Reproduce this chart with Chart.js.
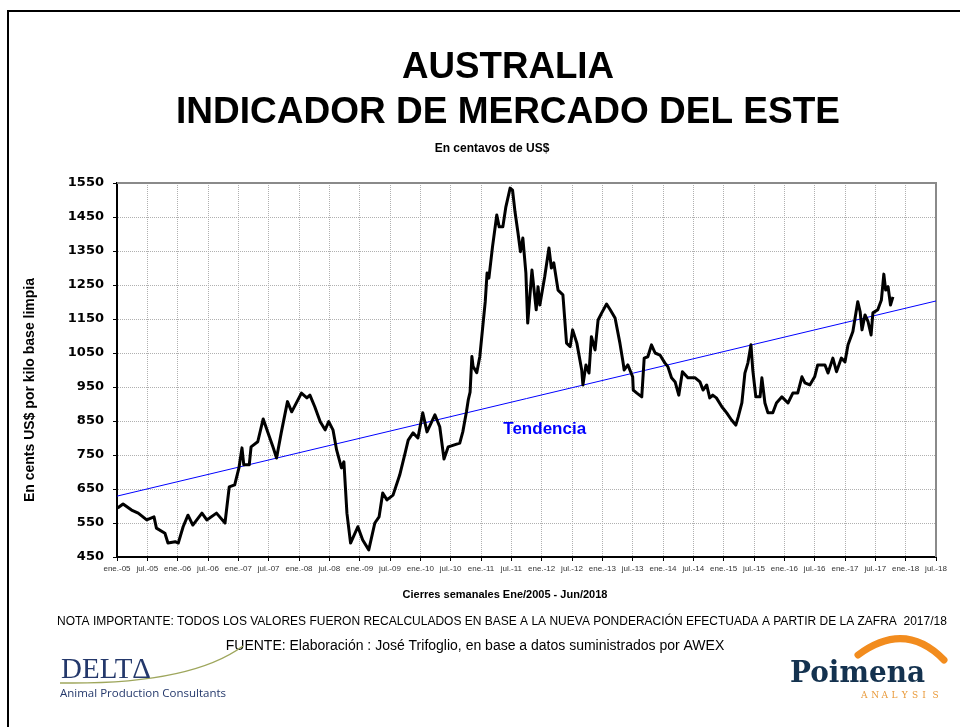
<!DOCTYPE html>
<html>
<head>
<meta charset="utf-8">
<script src="https://cdn.jsdelivr.net/npm/chart.js@4"></script>
<style>
  body { margin: 0; background: #fff; }
  canvas { display: block; }
</style>
</head>
<body>
<canvas id="emi" width="960" height="727"></canvas>
<script>
// fechas en años decimales, valores en centavos de US$ por kilo base limpia
const fechas = [
  2005.01, 2005.10, 2005.24, 2005.35, 2005.49, 2005.61, 2005.65, 2005.79, 2005.84, 2005.96,
  2006.01, 2006.09, 2006.17, 2006.25, 2006.40, 2006.48, 2006.64, 2006.78, 2006.85, 2006.94,
  2007.01, 2007.06, 2007.09, 2007.18, 2007.21, 2007.32, 2007.41, 2007.49, 2007.57, 2007.63,
  2007.71, 2007.81, 2007.88, 2008.04, 2008.13, 2008.18, 2008.26, 2008.35, 2008.43, 2008.49,
  2008.56, 2008.62, 2008.70, 2008.74, 2008.79, 2008.85, 2008.97, 2009.05, 2009.15, 2009.25,
  2009.32, 2009.38, 2009.45, 2009.55, 2009.66, 2009.75, 2009.80, 2009.88, 2009.96, 2010.04,
  2010.11, 2010.24, 2010.32, 2010.39, 2010.46, 2010.65, 2010.70, 2010.76, 2010.79, 2010.82,
  2010.85, 2010.87, 2010.93, 2010.98, 2011.07, 2011.10, 2011.13, 2011.19, 2011.26, 2011.30,
  2011.36, 2011.41, 2011.48, 2011.52, 2011.56, 2011.61, 2011.65, 2011.69, 2011.74, 2011.77,
  2011.84, 2011.91, 2011.94, 2011.97, 2012.05, 2012.12, 2012.16, 2012.20, 2012.27, 2012.35,
  2012.41, 2012.47, 2012.51, 2012.58, 2012.66, 2012.68, 2012.73, 2012.78, 2012.82, 2012.88,
  2012.93, 2012.99, 2013.07, 2013.13, 2013.21, 2013.29, 2013.34, 2013.36, 2013.42, 2013.50,
  2013.51, 2013.57, 2013.65, 2013.69, 2013.75, 2013.81, 2013.87, 2013.95, 2014.03, 2014.08,
  2014.14, 2014.20, 2014.26, 2014.32, 2014.41, 2014.53, 2014.61, 2014.66, 2014.72, 2014.77,
  2014.82, 2014.88, 2014.97, 2015.05, 2015.13, 2015.20, 2015.24, 2015.30, 2015.35, 2015.40,
  2015.45, 2015.48, 2015.53, 2015.60, 2015.63, 2015.68, 2015.73, 2015.81, 2015.87, 2015.96,
  2016.06, 2016.14, 2016.22, 2016.29, 2016.34, 2016.42, 2016.50, 2016.55, 2016.67, 2016.72,
  2016.80, 2016.86, 2016.94, 2017.00, 2017.05, 2017.13, 2017.21, 2017.25, 2017.28, 2017.33,
  2017.38, 2017.43, 2017.46, 2017.54, 2017.60, 2017.64, 2017.67, 2017.71, 2017.75, 2017.79
];
const indicador = [
  594, 606, 588, 579, 559, 568, 535, 520, 491, 495,
  491, 539, 573, 544, 579, 559, 579, 550, 656, 662,
  712, 771, 721, 721, 774, 789, 856, 815, 774, 741,
  818, 907, 877, 932, 918, 926, 892, 848, 824, 848,
  824, 765, 712, 730, 579, 491, 539, 500, 471, 550,
  568, 638, 618, 632, 691, 756, 794, 815, 800, 874,
  818, 868, 833, 738, 774, 785, 818, 877, 912, 935,
  1040, 1010, 992, 1039, 1201, 1285, 1270, 1363, 1456, 1421,
  1421, 1480, 1535, 1529, 1466, 1403, 1348, 1388, 1285, 1138,
  1294, 1177, 1245, 1191, 1274, 1359, 1300, 1315, 1235, 1221,
  1079, 1069, 1118, 1079, 1000, 956, 1015, 991, 1098, 1059,
  1147, 1168, 1194, 1177, 1153, 1079, 1024, 1000, 1015, 980,
  941, 932, 921, 1035, 1039, 1074, 1050, 1044, 1021, 1010,
  977, 965, 926, 995, 977, 977, 965, 941, 956, 918,
  926, 918, 892, 874, 853, 838, 862, 903, 991, 1021,
  1074, 1000, 921, 921, 977, 903, 874, 874, 903, 921,
  903, 932, 932, 980, 962, 956, 980, 1015, 1015, 991,
  1035, 995, 1035, 1024, 1074, 1113, 1201, 1171, 1118, 1162,
  1142, 1103, 1168, 1177, 1206, 1282, 1235, 1245, 1191, 1215
];
const tendenciaX = [2005, 2018.5];
const tendenciaY = [629, 1203];
const etiquetasX = [
  'ene.-05', 'jul.-05', 'ene.-06', 'jul.-06', 'ene.-07', 'jul.-07', 'ene.-08', 'jul.-08',
  'ene.-09', 'jul.-09', 'ene.-10', 'jul.-10', 'ene.-11', 'jul.-11', 'ene.-12', 'jul.-12',
  'ene.-13', 'jul.-13', 'ene.-14', 'jul.-14', 'ene.-15', 'jul.-15', 'ene.-16', 'jul.-16',
  'ene.-17', 'jul.-17', 'ene.-18', 'jul.-18'
];

const decoracion = {
  id: 'decoracion',
  beforeDatasetsDraw(chart) {
    const { ctx, chartArea: a } = chart;
    // borde superior y derecho del area de trazado
    ctx.save();
    ctx.strokeStyle = '#8a8a8a';
    ctx.lineWidth = 2;
    ctx.beginPath();
    ctx.moveTo(a.left, a.top);
    ctx.lineTo(a.right, a.top);
    ctx.lineTo(a.right, a.bottom);
    ctx.stroke();
    ctx.restore();
  },
  afterDraw(chart) {
    const { ctx, scales } = chart;
    ctx.save();
    // marco
    ctx.strokeStyle = '#000';
    ctx.lineWidth = 2;
    ctx.beginPath();
    ctx.moveTo(8, 727);
    ctx.lineTo(8, 11);
    ctx.lineTo(960, 11);
    ctx.stroke();

    ctx.fillStyle = '#000';
    ctx.textAlign = 'center';
    ctx.textBaseline = 'alphabetic';
    ctx.font = 'bold 37px "Liberation Sans", Arial, sans-serif';
    ctx.fillText('AUSTRALIA', 508, 78, 212);
    ctx.fillText('INDICADOR DE MERCADO DEL ESTE', 508, 123, 668);
    ctx.font = 'bold 12px "Liberation Sans", Arial, sans-serif';
    ctx.fillText('En centavos de US$', 492, 152, 125);

    ctx.font = 'bold 11px "Liberation Sans", Arial, sans-serif';
    ctx.fillText('Cierres semanales Ene/2005 - Jun/2018', 505, 598);
    ctx.font = '12px "Liberation Sans", Arial, sans-serif';
    ctx.fillText('NOTA IMPORTANTE: TODOS LOS VALORES FUERON RECALCULADOS EN BASE A LA NUEVA PONDERACIÓN EFECTUADA A PARTIR DE LA ZAFRA  2017/18', 502, 625, 891);
    ctx.font = '14px "Liberation Sans", Arial, sans-serif';
    ctx.fillText('FUENTE: Elaboración : José Trifoglio, en base a datos suministrados por AWEX', 475, 650, 524);

    // titulo eje y
    ctx.save();
    ctx.translate(34, 390);
    ctx.rotate(-Math.PI / 2);
    ctx.font = 'bold 14px "Liberation Sans", Arial, sans-serif';
    ctx.fillText('En cents US$ por kilo base limpia', 0, 0, 256);
    ctx.restore();

    // etiqueta de tendencia
    ctx.fillStyle = '#0000ff';
    ctx.font = 'bold 17px "Liberation Sans", Arial, sans-serif';
    ctx.textBaseline = 'middle';
    ctx.fillText('Tendencia', scales.x.getPixelForValue(2012.05), scales.y.getPixelForValue(826));

    // logo DELTA
    ctx.textBaseline = 'alphabetic';
    ctx.strokeStyle = '#9ea65c';
    ctx.lineWidth = 1.5;
    ctx.beginPath();
    ctx.moveTo(60, 683);
    ctx.quadraticCurveTo(190, 685, 243, 646);
    ctx.stroke();
    ctx.fillStyle = '#24386b';
    ctx.textAlign = 'left';
    ctx.font = '29px "Liberation Serif", "Times New Roman", serif';
    ctx.fillText('DELTΔ', 61, 678, 90);
    ctx.font = '11.5px "Open Sans", sans-serif';
    ctx.fillText('Animal Production Consultants', 60, 697, 188);

    // logo Poimena
    ctx.strokeStyle = '#f28c1e';
    ctx.lineWidth = 7;
    ctx.lineCap = 'round';
    ctx.beginPath();
    ctx.moveTo(858, 655);
    ctx.quadraticCurveTo(905, 620, 944, 660);
    ctx.stroke();
    ctx.fillStyle = '#14324f';
    ctx.font = 'bold 29px "DejaVu Serif", serif';
    ctx.fillText('Poimena', 790, 682, 135);
    ctx.fillStyle = '#e99a3a';
    ctx.font = '9px "DejaVu Serif", serif';
    'ANALYSIS'.split('').forEach((c, i) => ctx.fillText(c, 861 + i * 10.2, 698));
    ctx.restore();
  }
};

const ctxEmi = document.getElementById('emi').getContext('2d');

new Chart(ctxEmi, {
  type: 'line',
  data: {
    datasets: [{
      label: 'Indicador',
      data: fechas.map((f, i) => ({ x: f, y: indicador[i] })),
      borderColor: '#000',
      borderWidth: 3,
      borderJoinStyle: 'round',
      pointRadius: 0,
      tension: 0
    }, {
      label: 'Tendencia',
      data: tendenciaX.map((f, i) => ({ x: f, y: tendenciaY[i] })),
      borderColor: '#0000ff',
      borderWidth: 1,
      pointRadius: 0
    }]
  },
  options: {
    responsive: false,
    animation: false,
    layout: { padding: { top: 183, left: 7, right: 24, bottom: 0 } },
    plugins: { legend: { display: false }, tooltip: { enabled: false } },
    scales: {
      x: {
        type: 'linear',
        min: 2005,
        max: 2018.5,
        afterFit: (s) => { s.height = 170; },
        ticks: {
          stepSize: 0.5,
          autoSkip: false,
          maxRotation: 0,
          padding: 3,
          color: '#333',
          font: { size: 8, family: 'Arial, "Liberation Sans", sans-serif' },
          callback: (v) => etiquetasX[Math.round((v - 2005) * 2)]
        },
        grid: { color: '#b0b0b0', tickColor: '#000', tickLength: 4 },
        border: { color: '#000', width: 2, dash: [1, 1] }
      },
      y: {
        min: 450,
        max: 1550,
        afterFit: (s) => { s.width = 110; },
        ticks: {
          stepSize: 100,
          padding: 9,
          color: '#000',
          font: { size: 13, weight: 'bold', family: '"DejaVu Sans", Verdana, sans-serif' },
          callback: (v) => String(v)
        },
        grid: { color: '#b0b0b0', tickColor: '#000', tickLength: 4 },
        border: { color: '#000', width: 2, dash: [1, 1] }
      }
    }
  },
  plugins: [decoracion]
});
</script>
</body>
</html>
